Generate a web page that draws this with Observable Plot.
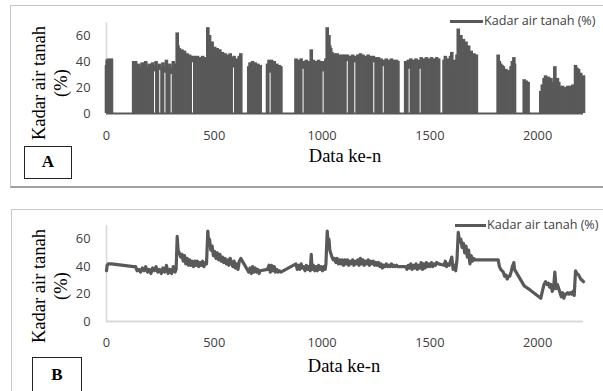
<!DOCTYPE html>
<html><head><meta charset="utf-8">
<script src="https://cdn.jsdelivr.net/npm/d3@7"></script>
<script src="https://cdn.jsdelivr.net/npm/@observablehq/plot@0.6"></script>
<style>
body{margin:0;background:#fff;}
#wrap{position:relative;width:603px;height:391px;overflow:hidden;background:#fff;}
.abs{position:absolute;}
.frameA{left:10px;top:5px;width:640px;height:180px;border:1px solid #c4c4c4;border-bottom:2px solid #a0a0a0;}
.frameB{left:11px;top:209px;width:640px;height:220px;border:1.5px solid #c8c8c8;}
.ytitle{width:140px;height:44px;font-family:"Liberation Serif",serif;font-size:18.5px;line-height:22px;text-align:center;color:#000;transform:rotate(-90deg);white-space:nowrap;}
.xtitle{width:160px;font-family:"Liberation Serif",serif;font-size:18.5px;line-height:20px;text-align:center;color:#000;white-space:nowrap;}
.box{border:1.5px solid #222;font-family:"Liberation Serif",serif;font-weight:bold;font-size:17px;text-align:center;color:#000;background:#fff;box-sizing:border-box;}
.legline{height:3px;background:#595959;}
.legtext{font-family:"Open Sans",sans-serif;font-size:12.6px;line-height:16px;color:#404040;white-space:nowrap;}
</style></head><body><div id="wrap"></div><script>
// Soil moisture readings: [data index, moisture %]
const readings = [
[0,37],[3,41],[8,42],[23,42],
[126,40],[135,40],[142,37],[150,38],[158,36],[166,39],[174,37],[182,40],[190,36],[198,38],[206,35],[214,39],[222,37],[230,40],[238,36],[246,38],[254,35],[262,39],[270,36],[278,41],[286,35],[294,38],[302,35],[310,40],[318,36],[323,38],
[328,62],[332,52],[338,50],[344,47],[350,49],[356,44],[362,48],[368,42],[374,46],[380,41],[386,45],[392,41],[398,44],[404,40],[410,44],[416,41],[422,44],[428,40],[434,43],[440,41],[446,44],[452,40],[458,43],[464,42],
[470,66],[474,58],[478,60],[484,52],[490,55],[496,48],[502,51],[508,46],[514,50],[520,45],[526,49],[532,44],[538,47],[544,43],[550,46],[556,42],[562,45],[568,41],[574,46],[580,43],[586,40],[592,44],[598,39],[604,42],[610,38],[616,44],[623,46],
[660,36],[666,39],[672,35],[678,40],[684,36],[690,39],[696,36],[702,38],[708,35],[713,37],
[747,38],[754,41],[760,36],[766,41],[772,37],[778,40],[784,36],[790,38],[796,36],[802,37],[809,36],
[879,42],[885,38],[891,41],[897,38],[903,42],[909,39],[915,40],[921,37],[927,41],[933,38],[939,40],[945,37],[950,49],[954,38],[960,41],[966,37],[972,40],[978,37],[984,41],[990,38],[996,40],[1002,37],[1008,40],[1014,38],[1018,42],
[1024,66],[1028,58],[1032,60],[1036,52],[1040,50],[1046,47],[1052,45],[1058,46],[1064,43],[1070,46],[1076,42],[1082,45],[1088,42],[1094,45],[1100,41],[1106,45],[1112,42],[1118,45],[1124,41],[1130,44],[1136,42],[1142,45],[1148,41],[1154,44],[1160,42],[1166,45],[1172,41],[1178,46],[1184,42],[1190,45],[1196,41],[1202,44],[1208,42],[1214,45],[1220,41],[1226,44],[1232,42],[1238,44],[1244,41],[1250,43],[1256,41],[1262,43],[1268,40],[1274,42],[1280,39],[1286,41],[1292,40],[1298,42],[1304,40],[1310,41],[1316,40],[1322,42],[1328,40],[1334,41],[1340,40],[1346,41],[1352,40],
[1388,40],[1394,38],[1400,41],[1406,39],[1412,42],[1418,38],[1424,41],[1430,39],[1436,42],[1442,38],[1448,41],[1454,39],[1460,43],[1466,38],[1472,42],[1478,39],[1484,43],[1490,40],[1496,42],[1502,40],[1508,43],[1514,40],[1520,42],[1526,41],[1532,43],[1541,42],
[1566,41],[1572,44],[1578,40],[1584,42],[1590,41],[1596,44],[1602,47],[1608,38],[1614,41],[1620,37],[1626,45],[1632,65],[1638,58],[1644,60],[1650,54],[1656,57],[1662,50],[1668,55],[1674,47],[1680,52],[1686,42],[1692,48],[1698,44],[1704,46],[1710,45],[1716,45],
[1817,45],[1823,40],[1829,38],[1835,37],[1841,36],[1847,33],[1853,34],[1859,31],[1865,33],[1871,33],[1877,36],[1883,40],[1890,43],[1893,38],
[1938,26],[1947,25],[1956,24],
[2015,17],[2022,22],[2030,27],[2037,29],[2044,27],[2050,28],[2056,25],[2062,27],[2068,22],[2074,24],[2080,36],[2086,24],[2092,27],[2098,24],[2104,21],[2110,18],[2116,21],[2122,17],[2128,20],[2134,20],[2140,21],[2146,20],[2152,21],[2158,20],[2164,22],[2170,19],[2176,37],[2182,35],[2190,34],[2200,31],[2213,29]
];
// Panel A: ranges where readings are non-zero (elsewhere the series is 0)
const filledRanges = [[0,23],[126,623],[660,713],[747,809],[879,1352],[1388,1541],[1566,1716],[1817,1893],[1938,1956],[2015,2213]];
// Panel A: short runs without zero readings (white slits)
const whiteGaps = [223,247,271,300,399,589,759,912,1005,1117,1152,1240,1284,1404,1455];
const xTicks = [0,500,1000,1500,2000];
const yTicks = [0,20,40,60];
const xDomain = [0,2213];
const yDomain = [0,70];
const legendLabel = "Kadar air tanah (%)";
const yTitle = ["Kadar air tanah","(%)"];
const xTitle = "Data ke-n";
const panelLabels = ["A","B"];

const pts = readings.map(([x,v]) => ({x, v}));
const aPts = pts.filter(p => filledRanges.some(([s,e]) => p.x >= s && p.x <= e));
const nearestV = x => pts.reduce((a,b) => Math.abs(b.x-x) < Math.abs(a.x-x) ? b : a).v;
const gapPts = whiteGaps.map(x => ({x, v: nearestV(x) - 5}));

const gray = "#595959", axisGray = "#d9d9d9";
const common = (h, mt, mb, pad) => ({
  width: 603, height: h, marginLeft: 106, marginRight: 20, marginTop: mt, marginBottom: mb,
  x: {domain: xDomain, ticks: xTicks, tickFormat: d3.format("d"), label: null, tickSize: 0, tickPadding: pad},
  y: {domain: yDomain, ticks: yTicks, label: null, tickSize: 0, tickPadding: 16},
  style: {fontFamily: "'Open Sans', sans-serif", fontSize: "12.8px", color: "#404040", background: "transparent", overflow: "visible"}
});

const plotA = Plot.plot({...common(190, 22, 77, 17),
  marks: [
    Plot.ruleX([0], {stroke: axisGray, strokeWidth: 1.5}),
    Plot.ruleX(aPts, {x: "x", y1: 0, y2: "v", stroke: gray, strokeWidth: 3.6}),
    Plot.ruleX(gapPts, {x: "x", y1: 0, y2: "v", stroke: "#fff", strokeWidth: 1}),
    Plot.ruleY([0], {stroke: gray, strokeWidth: 2})
  ]});
const plotB = Plot.plot({...common(191, 25, 70, 16),
  marks: [
    Plot.ruleX([0], {stroke: axisGray, strokeWidth: 1.5}),
    Plot.ruleY([0], {stroke: axisGray, strokeWidth: 2}),
    Plot.lineY(pts, {x: "x", y: "v", stroke: gray, strokeWidth: 3.2, strokeLinejoin: "round"})
  ]});

const wrap = document.getElementById("wrap");
function add(cls, css, html) {
  const d = document.createElement("div");
  d.className = "abs " + cls; Object.assign(d.style, css);
  if (html !== undefined) d.innerHTML = html;
  wrap.appendChild(d); return d;
}
add("frameA", {});
add("frameB", {});
const sA = add("", {left: "0px", top: "0px"}); sA.appendChild(plotA);
const sB = add("", {left: "0px", top: "200px"}); sB.appendChild(plotB);
[[83, 0], [286, 1]].forEach(([cy, i]) => {
  add("ytitle", {left: (50 - 70) + "px", top: (cy - 22) + "px"}, yTitle.join("<br>"));
});
add("xtitle", {left: (345 - 80) + "px", top: "146px"}, xTitle);
add("xtitle", {left: (344 - 80) + "px", top: "356px"}, xTitle);
add("box", {left: "24px", top: "146px", width: "48px", height: "33px", lineHeight: "30px"}, panelLabels[0]);
add("box", {left: "32px", top: "357px", width: "50px", height: "40px", lineHeight: "34px"}, panelLabels[1]);
add("legline", {left: "450px", top: "20px", width: "33px"});
add("legtext", {left: "484px", top: "13px"}, legendLabel);
add("legline", {left: "455px", top: "224px", width: "31px"});
add("legtext", {left: "487px", top: "217px"}, legendLabel);
</script></body></html>
